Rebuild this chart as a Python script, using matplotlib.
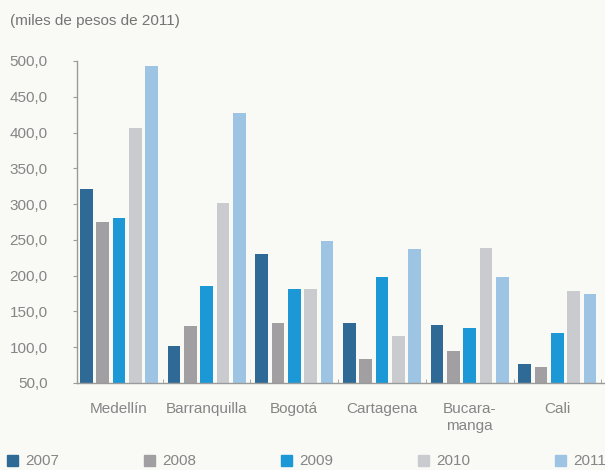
import numpy as np
import matplotlib.pyplot as plt
from matplotlib.patches import Rectangle

plt.rcParams['font.family'] = ['Liberation Sans', 'DejaVu Sans']

ciudades = ['Medellín', 'Barranquilla', 'Bogotá', 'Cartagena', 'Bucara-\nmanga', 'Cali']
anios = ['2007', '2008', '2009', '2010', '2011']

v2007 = [321, 102, 230, 134, 131, 77]
v2008 = [275, 129, 134, 84, 95, 72]
v2009 = [281, 186, 181, 198, 127, 120]
v2010 = [406, 302, 181, 115, 238, 179]
v2011 = [493, 428, 248, 237, 198, 175]

colores = ['#2f6a97', '#a19fa1', '#1c98d6', '#cacbcf', '#9dc5e3']
yticks = [50, 100, 150, 200, 250, 300, 350, 400, 450, 500]

bg = '#f9faf6'
fig = plt.figure(figsize=(6.05, 4.70), dpi=100, facecolor=bg)
ax = fig.add_axes([77 / 605, (470 - 383) / 470, 1 - 77 / 605, (383 - 61) / 470])
ax.set_facecolor(bg)

x = np.arange(len(ciudades))
paso = 0.186
ancho = 0.145
series = [v2007, v2008, v2009, v2010, v2011]
for i, (vals, c) in enumerate(zip(series, colores)):
    ax.bar(x + (i - 2) * paso, vals, width=ancho, color=c, label=anios[i], zorder=2)

ax.set_ylim(50, 500)
ax.set_xlim(-0.478, 5.543)
ax.set_yticks(yticks)
ax.set_yticklabels([f'{v:.1f}'.replace('.', ',') for v in yticks])
ax.set_xticks(x)
ax.set_xticklabels(ciudades, linespacing=1.2)
ax.set_xticks(x + 0.5, minor=True)

for s in ['top', 'right']:
    ax.spines[s].set_visible(False)
for s in ['left', 'bottom']:
    ax.spines[s].set_color('#9a9a9a')
    ax.spines[s].set_linewidth(1.0)

ax.tick_params(axis='y', length=3, color='#9a9a9a', pad=18, labelsize=11, labelcolor='#858585')
ax.tick_params(axis='x', which='major', length=0, pad=14, labelsize=11, labelcolor='#858585')
ax.tick_params(axis='x', which='minor', length=3, color='#9a9a9a', direction='in')

fig.text(10 / 605, 1 - 21 / 470, '(miles de pesos de 2011)', fontsize=11,
         color='#747474', va='center', ha='left')

# leyenda
for i, (a, c) in enumerate(zip(anios, colores)):
    x0 = 7 + i * 137
    fig.patches.append(Rectangle((x0 / 605, 1 - 466 / 470), 11 / 605, 11 / 470,
                                 transform=fig.transFigure, color=c, figure=fig))
    fig.text((x0 + 18) / 605, 1 - 461 / 470, a, fontsize=11, color='#858585',
             va='center', ha='left')

fig.savefig('out.png', dpi=100, facecolor=bg)
